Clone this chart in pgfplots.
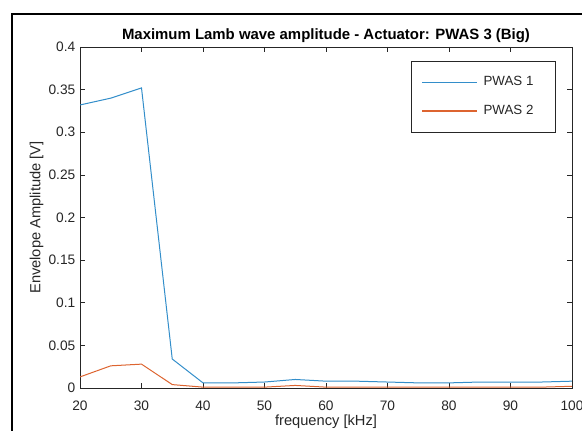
\documentclass[border=0pt]{standalone}
\usepackage{pgfplots}
\pgfplotsset{compat=1.18}
\usepackage{fontspec}
\setmainfont{Liberation Sans}
\definecolor{mblue}{rgb}{0.0,0.447,0.741}
\definecolor{morange}{rgb}{0.85,0.325,0.098}
\definecolor{axgray}{rgb}{0.15,0.15,0.15}
\begin{document}
\begin{tikzpicture}
\useasboundingbox (0,0) rectangle (436.5pt,323.25pt);
\draw[line width=1.4pt,black] (9pt,-10pt) -- (9pt,312.75pt) -- (450pt,312.75pt);
\begin{axis}[
  at={(60pt,32.25pt)}, anchor=south west,
  scale only axis,
  width=369pt, height=255.75pt,
  xmin=20, xmax=100, ymin=0, ymax=0.4,
  xtick={20,30,...,100},
  ytick={0,0.05,...,0.4},
  yticklabels={0,0.05,0.1,0.15,0.2,0.25,0.3,0.35,0.4},
  tick align=inside,
  major tick length=3.5pt,
  axis line style={axgray, line width=0.5pt},
  every tick/.style={axgray, line width=0.5pt},
  tick label style={font=\fontsize{10.3}{12}\selectfont, text=axgray},
  xticklabel style={yshift=-6.5pt},
  /pgf/number format/assume math mode=true,
  label style={font=\fontsize{11}{13}\selectfont, text=axgray},
  xlabel={frequency [kHz]},
  ylabel={Envelope Amplitude [V]},
  xlabel style={yshift=4pt},
  ylabel style={yshift=-3pt},
  title={\bfseries Maximum Lamb wave amplitude - Actuator: PWAS 3 (Big)},
  title style={font=\fontsize{11.2}{13}\selectfont, yshift=-6pt},
  legend style={at={(0.967,0.959)}, anchor=north east, draw=axgray, line width=0.5pt,
    font=\fontsize{10}{12}\selectfont, text=axgray, inner xsep=7.5pt, inner ysep=9.5pt,
    row sep=9pt},
  legend cell align=left,
  legend image code/.code={\draw[#1, line width=0.9pt] (0pt,0pt) -- (41pt,0pt); \path (43.5pt,0pt);},
]
\addplot[mblue!80, line width=0.75pt] coordinates {
(20,0.332) (25,0.340) (30,0.352) (35,0.034) (40,0.006) (45,0.006) (50,0.007)
(55,0.010) (60,0.008) (65,0.008) (70,0.007) (75,0.006) (80,0.006) (85,0.007)
(90,0.007) (95,0.007) (100,0.008)};
\addlegendentry{PWAS 1\hspace*{7pt}}
\addplot[morange!90, line width=0.75pt] coordinates {
(20,0.013) (25,0.026) (30,0.028) (35,0.004) (40,0.001) (45,0.001) (50,0.001)
(55,0.003) (60,0.001) (65,0.001) (70,0.001) (75,0.001) (80,0.001) (85,0.001)
(90,0.001) (95,0.001) (100,0.002)};
\addlegendentry{PWAS 2\hspace*{7pt}}
\end{axis}
\end{tikzpicture}
\end{document}
